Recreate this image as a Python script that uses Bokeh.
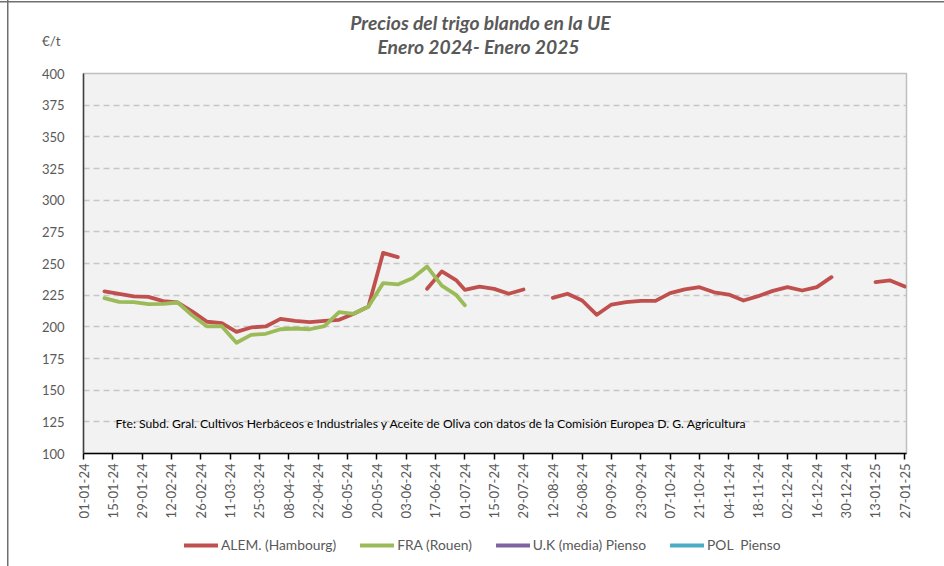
import numpy as np
import pandas as pd
from math import pi
from bokeh.plotting import figure
from bokeh.layouts import column
from bokeh.models import (ColumnDataSource, FixedTicker, DatetimeTickFormatter,
                          Range1d, Label, Legend, LegendItem)
from bokeh.embed import file_html
from bokeh.resources import INLINE

# ---------------- data ----------------
dates = ["11-01-24", "18-01-24", "25-01-24", "01-02-24", "08-02-24", "15-02-24",
         "22-02-24", "29-02-24", "07-03-24", "14-03-24", "21-03-24", "28-03-24",
         "04-04-24", "11-04-24", "18-04-24", "25-04-24", "02-05-24", "09-05-24",
         "16-05-24", "23-05-24", "30-05-24", "06-06-24", "13-06-24", "20-06-24",
         "27-06-24", "01-07-24", "08-07-24", "15-07-24", "22-07-24", "29-07-24",
         "05-08-24", "12-08-24", "19-08-24", "26-08-24", "02-09-24", "09-09-24",
         "16-09-24", "23-09-24", "30-09-24", "07-10-24", "14-10-24", "21-10-24",
         "28-10-24", "04-11-24", "11-11-24", "18-11-24", "25-11-24", "02-12-24",
         "09-12-24", "16-12-24", "23-12-24", "30-12-24", "06-01-25", "13-01-25",
         "20-01-25", "27-01-25"]

nan = float("nan")
alem_hambourg = [228, 226, 224, 223.7, 220.3, 219.2, 212, 204, 203, 196, 199.5,
                 200.3, 206.3, 204.7, 203.7, 204.7, 205.5, 210.3, 216.1, 258.4,
                 255, nan, 230, 243.8, 236.6, 229.2, 231.8, 230, 226.1, 229.5,
                 nan, 222.9, 226.1, 220.8, 209.5, 217.6, 219.5, 220.5, 220.5,
                 226.6, 229.5, 231.3, 227.3, 225.5, 220.8, 224.2, 228.4, 231.3,
                 228.7, 231.3, 239.2, nan, nan, 235.3, 236.6, 231.8]
fra_rouen = [222.6, 219.7, 219.5, 217.9, 218.2, 219.2, 208.9, 200.3, 200.5,
             187.4, 193.7, 194.5, 198.1, 198.7, 198.1, 200.5, 211.6, 210.3,
             216.1, 234.5, 233.5, 238.4, 247.6, 232.6, 225, 217] + [nan] * 30
# no values reported for these two series in the period
uk_pienso = [nan] * 56
pol_pienso = [nan] * 56

tick_labels = ["01-01-24", "15-01-24", "29-01-24", "12-02-24", "26-02-24",
               "11-03-24", "25-03-24", "08-04-24", "22-04-24", "06-05-24",
               "20-05-24", "03-06-24", "17-06-24", "01-07-24", "15-07-24",
               "29-07-24", "12-08-24", "26-08-24", "09-09-24", "23-09-24",
               "07-10-24", "21-10-24", "04-11-24", "18-11-24", "02-12-24",
               "16-12-24", "30-12-24", "13-01-25", "27-01-25"]
y_ticks = [100, 125, 150, 175, 200, 225, 250, 275, 300, 325, 350, 375, 400]

series_names = ["ALEM. (Hambourg)", "FRA (Rouen)", "U.K (media) Pienso", "POL  Pienso"]
colors = ["#c0504d", "#9bbb59", "#8064a2", "#4bacc6"]

title_1 = "Precios del trigo blando en la UE"
title_2 = "Enero 2024- Enero 2025"
unit_label = "€/t"
source_note = ("Fte: Subd. Gral. Cultivos Herbáceos e Industriales y Aceite de Oliva con  "
               "datos de la Comisión Europea D.  G. Agricultura")

# ---------------- helpers ----------------
def to_dt(strs):
    return pd.to_datetime(strs, format="%d-%m-%y")

def to_ms(strs):
    return [(t - pd.Timestamp("1970-01-01")) / pd.Timedelta(milliseconds=1) for t in to_dt(strs)]

x_dates = to_dt(dates)
tick_ms = to_ms(tick_labels)

FONT = "Lato"
TXT = "#595959"
W = 944

sources = [ColumnDataSource(dict(x=x_dates, y=vals))
           for vals in [alem_hambourg, fra_rouen, uk_pienso, pol_pienso]]

# ---------------- header (titles + unit) ----------------
header = figure(width=W, height=60, x_axis_type=None,
                output_backend="svg", toolbar_location=None,
                x_range=Range1d(0, 1), y_range=Range1d(0, 60), min_border=0,
                outline_line_color=None, background_fill_alpha=0,
                border_fill_alpha=0)
header.ygrid.visible = False
hy = header.yaxis[0]
hy.ticker = FixedTicker(ticks=[20])
hy.major_label_overrides = {20: unit_label}
hy.major_label_text_font = FONT
hy.major_label_text_font_size = "13.5px"
hy.major_label_text_color = TXT
hy.major_label_standoff = 17
hy.axis_line_color = None
hy.major_tick_line_color = None
hy.minor_tick_line_color = None

# frame of the header is aligned with the main frame (starts at x=83)
header.add_layout(Label(x=397, y=38, x_units="screen", y_units="screen",
                        text=title_1, text_font=FONT, text_font_style="bold italic",
                        text_font_size="19.3px", text_color=TXT,
                        text_align="center", text_baseline="middle"))
header.add_layout(Label(x=395, y=14, x_units="screen", y_units="screen",
                        text=title_2, text_font=FONT, text_font_style="bold italic",
                        text_font_size="19.3px", text_color=TXT,
                        text_align="center", text_baseline="middle"))

# ---------------- main chart ----------------
x_start = tick_ms[0]
x_end = tick_ms[-1] + 0.8 * 86400000

p = figure(width=W, height=465, x_axis_type="datetime",
           output_backend="svg", toolbar_location=None,
           x_range=Range1d(x_start, x_end), y_range=Range1d(100, 400),
           min_border_left=83, min_border_right=38, min_border_top=13,
           min_border_bottom=72,
           background_fill_color="#f2f2f2", border_fill_alpha=0,
           outline_line_color="#bfbfbf", outline_line_width=1.5)

for src, col in zip(sources, colors):
    p.line("x", "y", source=src, line_color=col, line_width=3.8,
           line_join="round", line_cap="round")

xa = p.xaxis[0]
xa.ticker = FixedTicker(ticks=tick_ms)
fmt = "%d-%m-%y"
xa.formatter = DatetimeTickFormatter(microseconds=fmt, milliseconds=fmt, seconds=fmt,
                                     minsec=fmt, minutes=fmt, hourmin=fmt, hours=fmt,
                                     days=fmt, months=fmt, years=fmt)
xa.major_label_orientation = pi / 2
xa.major_label_text_font = FONT
xa.major_label_text_font_size = "13px"
xa.major_label_text_color = TXT
xa.major_label_standoff = 4
xa.major_tick_out = 6
xa.major_tick_in = 0
xa.major_tick_line_color = "#000000"
xa.major_tick_line_width = 1.5
xa.minor_tick_line_color = None
xa.axis_line_color = "#000000"
xa.axis_line_width = 1.5

ya = p.yaxis[0]
ya.ticker = FixedTicker(ticks=y_ticks)
ya.major_label_text_font = FONT
ya.major_label_text_font_size = "13px"
ya.major_label_text_color = TXT
ya.major_tick_line_color = None
ya.minor_tick_line_color = None
ya.major_label_standoff = 13
ya.axis_line_color = "#404040"
ya.axis_line_width = 1.5

p.xgrid.grid_line_color = None
p.ygrid.grid_line_color = "#c6c6c6"
p.ygrid.grid_line_dash = "6 4"
p.ygrid.grid_line_width = 1.5

p.add_layout(Label(x=32, y=30, x_units="screen", y_units="screen",
                   text=source_note, text_font=FONT, text_font_size="12.2px",
                   text_color="#000000", text_align="left", text_baseline="middle"))

# ---------------- footer (legend) ----------------
footer = figure(width=W, height=41, x_axis_type=None, y_axis_type=None,
                output_backend="svg", toolbar_location=None,
                x_range=Range1d(0, 1), y_range=Range1d(0, 1), min_border=0,
                outline_line_color=None, background_fill_alpha=0,
                border_fill_alpha=0)
leg_renderers = []
for src, col in zip(sources, colors):
    leg_renderers.append(footer.line("x", "y", source=src, line_color=col,
                                     line_width=3.8, line_cap="round"))
legend = Legend(items=[LegendItem(label=n, renderers=[r])
                       for n, r in zip(series_names, leg_renderers)],
                orientation="horizontal", location=(101, 13),
                label_text_font=FONT, label_text_font_size="13.8px",
                label_text_color=TXT, glyph_width=34, glyph_height=16,
                label_standoff=3, spacing=24, padding=0, margin=0,
                border_line_color=None, background_fill_alpha=0)
footer.add_layout(legend)

layout = column(header, p, footer, spacing=0,
                styles={"background-color": "white",
                        "background-image": "linear-gradient(#6f6f6f,#6f6f6f), linear-gradient(#6f6f6f,#6f6f6f)",
                        "background-size": "1.5px 100%, 100% 1.5px",
                        "background-position": "7px 0px, 0px 1px",
                        "background-repeat": "no-repeat"})

open("out.html", "w").write(file_html(layout, INLINE))
